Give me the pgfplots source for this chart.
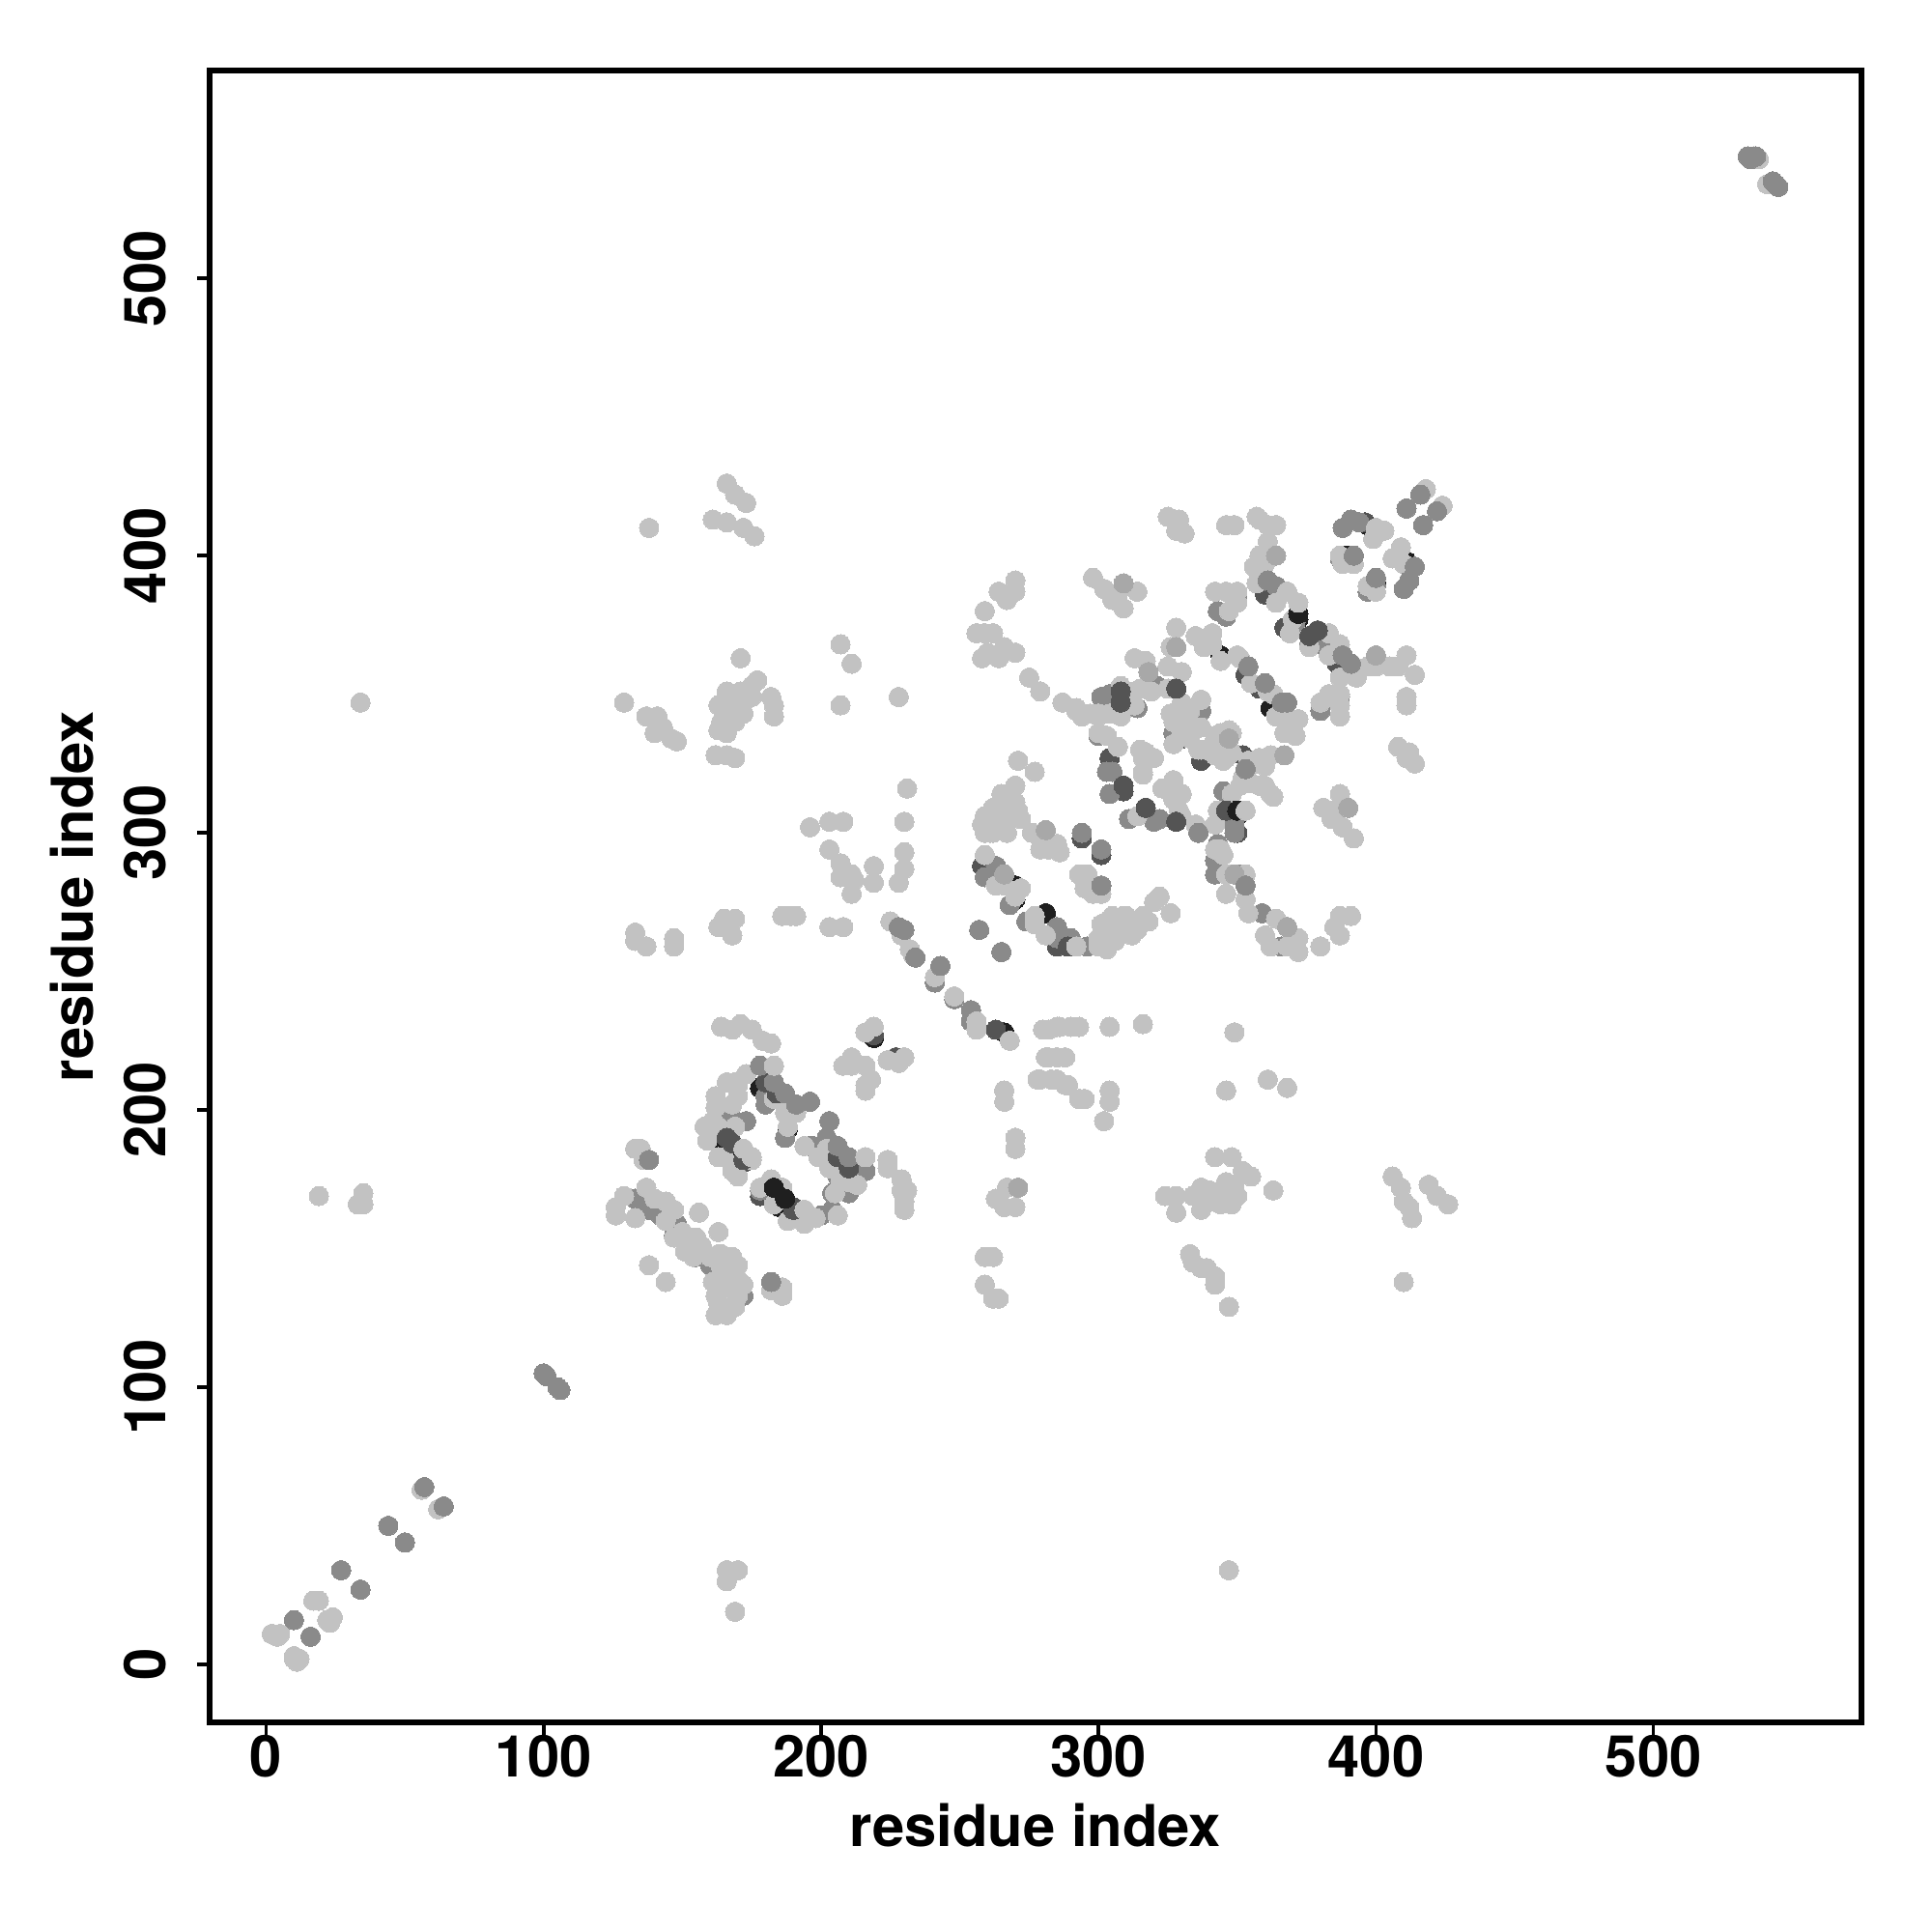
\documentclass[border=0pt]{standalone}
\usepackage{fontspec}
\setmainfont{TeX Gyre Heros}
\usepackage{pgfplots}
\pgfplotsset{compat=1.18}
\definecolor{cL}{gray}{0.76}
\definecolor{cA}{gray}{0.66}
\definecolor{cM}{gray}{0.54}
\definecolor{cD}{gray}{0.33}
\definecolor{cK}{gray}{0.12}
\pgfplotsset{pts/.style={only marks,mark=*,mark size=2.85pt,color=#1,mark options={fill=#1,draw=#1,line width=0pt,solid}}}
\begin{document}
\begin{tikzpicture}
\path[use as bounding box] (-2.17,-2.17) rectangle (17.83,17.83);
\begin{axis}[at={(0,0)},anchor=south west,scale only axis,width=17.1cm,height=17.1cm,
 xmin=-20.4,xmax=575,ymin=-20.9,ymax=575,
 xtick={0,100,200,300,400,500},ytick={0,100,200,300,400,500},
 axis line style={line width=1.6pt},
 tick style={line width=1pt,black},tickwidth=0.125cm,tick align=outside,
 xtick pos=bottom,ytick pos=left,
 /pgf/number format/assume math mode=true,
 ticklabel style={font=\bfseries\fontsize{17}{18}\selectfont},
 xticklabel style={yshift=3.4pt},
 yticklabel style={rotate=90,anchor=south,yshift=5.6pt},
 xlabel={residue index},ylabel={residue index},
 label style={font=\bfseries\fontsize{17}{18}\selectfont},
 xlabel style={at={(axis description cs:0.5,0)},anchor=north,yshift=-20.4pt},
 ylabel style={at={(axis description cs:0,0.5)},anchor=south,yshift=30.7pt,rotate=0},
]
% under: black
\addplot[pts=cK] table {
397 411
399 409
390 400
400 390
411 398
412 396
372 379
372 377
379 373
362 345
344 364
270 281
270 276
281 271
309 317
317 309
350 308
350 306
308 346
308 349
188 193
168 188
164 190
165 186
171 183
183 172
187 168
185 165
178 208
266 228
219 226
227 219
};
% under: dark
\addplot[pts=cD] table {
360 386
367 374
376 371
379 371
386 361
353 357
358 352
304 327
309 315
328 352
346 308
350 300
352 328
337 326
330 334
258 288
263 285
285 259
289 259
294 298
301 292
165 191
172 181
178 169
190 165
180 210
206 183
210 179
219 227
227 219
263 229
396 412
};
% under: mid
\addplot[pts=cM] table {
388 410
391 413
394 412
387 399
400 389
410 388
412 391
397 387
360 391
364 389
371 376
382 367
376 368
391 361
350 384
343 380
346 378
380 344
387 349
327 336
301 349
304 350
337 344
300 335
303 322
305 322
304 314
314 345
321 353
345 315
349 300
349 303
342 290
342 285
350 285
359 271
366 259
343 296
259 284
263 288
268 274
274 268
285 266
285 262
290 262
296 259
148 159
147 155
138 164
133 168
142 162
155 147
160 144
165 136
172 133
166 140
161 196
165 199
168 197
173 196
180 205
180 202
187 190
202 190
197 187
206 176
196 187
204 170
210 170
200 162
204 164
178 171
133 186
241 246
248 240
254 236
254 232
216 178
311 305
320 304
};
% light
\addplot[pts=cL] table {
2 11
4 10
5 11
10 3
11 1
10 2
12 2
17 23
19 23
22 16
24 17
23 15
56 63
62 56
19 169
33 166
35 166
35 170
34 347
169 19
166 30
166 34
170 34
347 34
538 543
536 544
541 534
126 165
129 169
126 162
133 161
137 172
140 168
144 167
147 164
144 160
150 156
147 154
156 163
163 156
138 144
144 138
154 147
157 151
163 148
164 143
168 147
170 144
170 139
172 137
162 133
162 126
166 126
169 129
151 149
155 154
160 147
164 148
166 143
168 141
161 138
165 137
163 130
168 135
170 133
182 135
186 136
186 133
164 230
168 229
171 231
175 229
179 225
182 224
135 186
133 186
136 182
159 193
159 189
158 194
161 196
162 205
162 201
166 210
170 209
173 213
170 205
168 202
163 194
169 194
169 210
183 216
183 204
187 199
191 199
188 194
172 186
175 182
165 183
163 183
168 178
170 176
194 187
199 183
202 186
203 179
209 180
216 183
178 172
182 175
186 172
183 166
194 164
188 160
194 159
198 161
206 162
205 170
207 174
210 174
213 173
224 182
224 179
229 175
231 171
229 171
230 167
230 164
219 230
216 228
211 219
208 216
211 216
218 211
216 207
216 209
230 219
224 218
228 217
241 248
248 241
256 232
256 229
268 225
225 268
229 263
232 258
233 256
282 229
285 230
281 219
285 219
278 211
283 211
288 209
266 207
266 203
270 190
270 186
267 172
263 168
266 165
270 165
259 147
262 147
259 137
262 132
264 132
271 326
277 322
270 317
265 314
265 310
271 308
259 306
259 300
262 300
267 300
263 304
272 305
260 303
261 304
264 302
267 305
270 311
268 313
262 309
258 303
266 308
261 300
259 292
263 281
272 280
266 281
270 277
277 270
277 267
281 263
292 259
300 259
303 258
301 267
305 270
309 270
314 265
316 270
307 265
300 262
306 261
302 263
305 262
308 264
311 266
303 268
306 267
310 270
313 268
318 268
312 263
322 277
320 275
326 271
276 300
279 298
279 294
285 296
286 293
282 294
293 285
296 285
295 280
298 278
301 278
300 336
320 327
316 321
330 306
335 303
314 306
329 308
316 327
327 319
323 316
330 314
327 312
317 329
337 330
347 336
342 335
343 329
346 327
354 326
358 327
362 328
360 324
330 336
351 317
355 318
360 317
363 313
353 308
343 308
342 303
342 294
345 292
346 285
353 285
346 278
353 276
354 271
364 269
360 263
372 262
372 257
368 259
362 259
380 259
387 263
385 266
387 270
391 270
387 314
381 309
384 305
388 302
392 298
385 308
325 414
329 413
328 409
331 408
346 411
349 411
357 414
358 413
361 411
364 411
361 405
358 400
356 396
360 397
357 390
342 387
346 387
350 387
347 380
350 383
368 387
364 383
372 383
370 377
369 372
383 372
387 368
376 367
383 364
400 360
397 360
405 360
408 360
411 364
414 357
387 356
393 356
387 350
383 350
380 347
387 342
387 346
411 349
411 346
408 331
412 329
411 327
414 325
387 400
388 397
392 397
399 406
403 409
400 410
397 389
400 387
409 403
406 399
410 397
418 424
424 418
298 392
302 388
314 387
305 384
309 381
307 386
313 363
317 362
325 360
315 352
308 353
308 342
292 345
294 342
300 342
304 343
325 352
337 348
327 340
333 344
332 340
327 332
303 335
307 331
315 330
319 327
316 322
336 330
342 334
347 337
342 328
345 326
335 371
341 372
338 367
350 364
344 362
363 350
372 341
367 336
371 335
364 342
368 341
166 426
169 422
173 419
161 413
166 412
172 410
176 407
138 410
129 347
137 342
141 342
143 338
146 334
148 333
140 336
171 363
166 351
166 348
171 351
175 353
177 355
182 349
183 342
183 346
163 346
166 343
170 345
168 346
172 347
168 350
172 343
175 349
169 340
164 340
163 337
166 336
166 341
162 328
166 328
169 327
207 368
211 361
207 346
228 349
231 316
230 304
230 293
230 287
228 282
219 288
219 282
196 302
203 304
208 304
203 294
207 289
211 285
207 284
211 278
212 283
203 266
208 266
186 270
189 270
191 270
165 269
169 269
166 266
168 263
163 266
133 264
133 261
137 259
147 262
147 259
342 183
348 183
352 178
355 176
363 171
337 172
344 171
334 169
328 169
328 163
324 169
337 164
341 167
348 166
350 169
346 174
340 171
343 168
346 170
349 173
347 167
344 166
338 168
333 148
334 145
339 143
342 140
342 137
337 143
347 129
406 176
409 172
410 167
412 165
413 161
410 138
419 173
422 169
426 166
346 207
349 228
361 211
368 208
304 230
316 231
304 207
304 203
302 196
290 230
293 230
280 229
286 230
282 219
288 219
279 211
285 211
289 209
293 204
295 204
266 207
259 380
259 372
256 372
262 372
260 365
264 387
267 384
270 391
270 387
266 367
270 365
264 363
258 363
275 356
279 351
287 347
297 343
300 343
292 344
348 336
344 336
337 338
330 347
326 343
333 334
337 330
341 329
348 329
357 325
361 327
368 338
355 354
361 351
366 343
313 351
319 351
326 367
328 374
330 358
313 346
341 368
351 363
348 314
352 320
358 317
362 314
344 294
};
% top: lighter mid
\addplot[pts=cA] table {
347 334
271 172
390 309
364 400
367 328
368 266
400 364
328 367
318 358
281 301
349 285
266 285
309 390
};
% top: dark, first
\addplot[pts=cD] table {
180 210
184 206
206 183
210 179
168 188
172 182
166 190
376 371
379 373
};
% top: mid
\addplot[pts=cM] table {
10 16
16 10
27 34
34 27
44 50
50 44
57 64
64 57
100 105
101 104
105 100
106 99
534 544
535 543
537 544
544 534
545 533
543 535
138 182
178 216
183 210
187 206
191 202
196 203
203 196
206 187
210 183
182 138
257 265
265 257
294 300
301 294
301 281
305 322
322 305
336 300
353 323
353 281
361 391
416 422
411 417
422 416
417 411
392 400
400 392
414 396
412 391
410 388
388 364
391 361
354 360
368 347
360 354
234 255
230 265
228 266
243 252
366 347
};
% top: dark
\addplot[pts=cD] table {
309 317
317 309
328 304
328 352
308 351
308 347
289 259
190 164
346 308
};
\addplot[pts=cK] table {
183 172
187 168
350 308
372 379
};
\addplot[pts=cL] table {
353 308
372 383
292 259
268 225
216 183
216 216
183 216
194 164
172 186
175 183
};
\end{axis}
\end{tikzpicture}
\end{document}
